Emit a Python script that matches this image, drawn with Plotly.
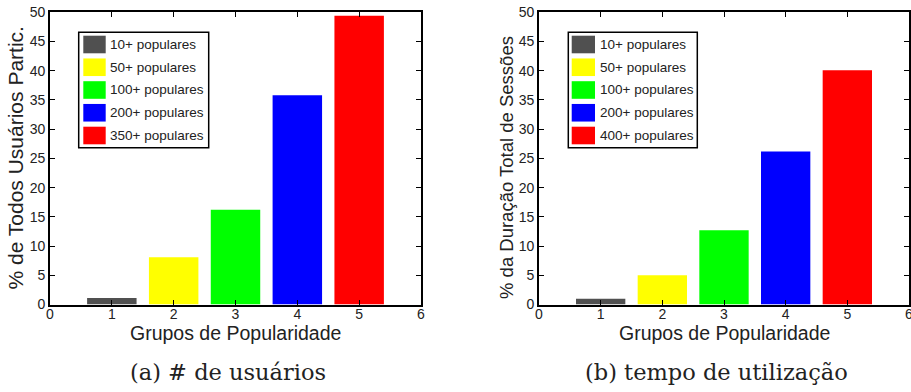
import plotly.graph_objects as go

# ---- data ----
groups = [1, 2, 3, 4, 5]
users_pct = [1.1, 8.1, 16.2, 35.8, 49.4]
time_pct = [1.0, 5.0, 12.7, 26.2, 40.1]
legend_users = ["10+ populares", "50+ populares", "100+ populares", "200+ populares", "350+ populares"]
legend_time = ["10+ populares", "50+ populares", "100+ populares", "200+ populares", "400+ populares"]
bar_colors = ["#505050", "#FFFF00", "#00FF00", "#0000FF", "#FF0000"]
x_ticks = [0, 1, 2, 3, 4, 5, 6]
y_ticks = [0, 5, 10, 15, 20, 25, 30, 35, 40, 45, 50]
x_title = "Grupos de Popularidade"
y_title_users = "% de Todos Usuários Partic."
y_title_time = "% da Duração Total de Sessões"
caption_users = "(a) # de usuários"
caption_time = "(b) tempo de utilização"

W, H = 911, 392


def px(x):
    return x / W


def py(y):
    return 1 - y / H


SANS = "Liberation Sans, Arial, Helvetica, sans-serif"
SERIF = "DejaVu Serif, serif"

fig = go.Figure()
fig.add_trace(go.Bar(x=groups, y=users_pct, width=0.8, marker=dict(color=bar_colors, line=dict(width=0)),
                     showlegend=False, xaxis="x", yaxis="y"))
fig.add_trace(go.Bar(x=groups, y=time_pct, width=0.8, marker=dict(color=bar_colors, line=dict(width=0)),
                     showlegend=False, xaxis="x2", yaxis="y2"))

ydom = [py(304.5), py(12.3)]
common_x = dict(range=[0, 6], tickvals=x_ticks, ticks="inside", ticklen=5, tickwidth=1, tickcolor="black",
                showline=True, linecolor="black", linewidth=1.8, mirror="ticks", showgrid=False, zeroline=False,
                tickfont=dict(family=SANS, size=14, color="#222"), fixedrange=True, automargin=False,
                ticklabelstandoff=-4, ticklabeloverflow="allow")
common_y = dict(range=[0, 50], tickvals=y_ticks, ticks="inside", ticklen=5, tickwidth=1, tickcolor="black",
                showline=True, linecolor="black", linewidth=1.8, mirror="ticks", showgrid=False, zeroline=False,
                tickfont=dict(family=SANS, size=14, color="#222"), domain=ydom, fixedrange=True,
                automargin=False)

fig.update_layout(
    width=W, height=H, margin=dict(l=0, r=0, t=0, b=0, pad=0, autoexpand=False),
    paper_bgcolor="white", plot_bgcolor="white", barmode="overlay",
    xaxis=dict(domain=[px(50), px(421)], anchor="y", **common_x),
    yaxis=dict(anchor="x", **common_y),
    xaxis2=dict(domain=[px(539), px(909)], anchor="y2", **common_x),
    yaxis2=dict(anchor="x2", **common_y),
)

shapes = []
annotations = []

panels = [
    dict(leg=legend_users, box=(78.7, 208.7), sw=(83.3, 105.7), tx=108.3, ytitle=y_title_users, ytx=15,
         yty=158.5, yts=21, xc=235.5, cap=caption_users, capx=228),
    dict(leg=legend_time, box=(568.3, 697.3), sw=(571.7, 595.0), tx=597.7, ytitle=y_title_time, ytx=507,
         yty=167, yts=18.5, xc=724, cap=caption_time, capx=716),
]
row_top0, pitch, sw_h = 35.7, 22.75, 17.6
for p in panels:
    shapes.append(dict(type="rect", xref="paper", yref="paper", x0=px(p["box"][0]), x1=px(p["box"][1]),
                       y0=py(147.7), y1=py(32.3), line=dict(color="black", width=1.5), fillcolor="white",
                       layer="above"))
    for i, (lab, col) in enumerate(zip(p["leg"], bar_colors)):
        t = row_top0 + i * pitch
        shapes.append(dict(type="rect", xref="paper", yref="paper", x0=px(p["sw"][0]), x1=px(p["sw"][1]),
                           y0=py(t + sw_h), y1=py(t), line=dict(width=0), fillcolor=col, layer="above"))
        annotations.append(dict(text=lab, xref="paper", yref="paper", x=px(p["tx"]), y=py(t + sw_h / 2),
                                xanchor="left", yanchor="middle", showarrow=False,
                                font=dict(family=SANS, size=13.5, color="#222")))
    annotations.append(dict(text=p["ytitle"], xref="paper", yref="paper", x=px(p["ytx"]), y=py(p["yty"]),
                            xanchor="center", yanchor="middle", textangle=-90, showarrow=False,
                            font=dict(family=SANS, size=p["yts"], color="#222")))
    annotations.append(dict(text=x_title, xref="paper", yref="paper", x=px(p["xc"]), y=py(332.5),
                            xanchor="center", yanchor="middle", showarrow=False,
                            font=dict(family=SANS, size=19.5, color="#222")))
    annotations.append(dict(text=p["cap"], xref="paper", yref="paper", x=px(p["capx"]), y=py(372),
                            xanchor="center", yanchor="middle", showarrow=False,
                            font=dict(family=SERIF, size=22.5, color="#222")))

fig.update_layout(shapes=shapes, annotations=annotations)
fig.write_html("out.html", post_script="document.body.style.margin='0';document.body.style.overflow='hidden';")
